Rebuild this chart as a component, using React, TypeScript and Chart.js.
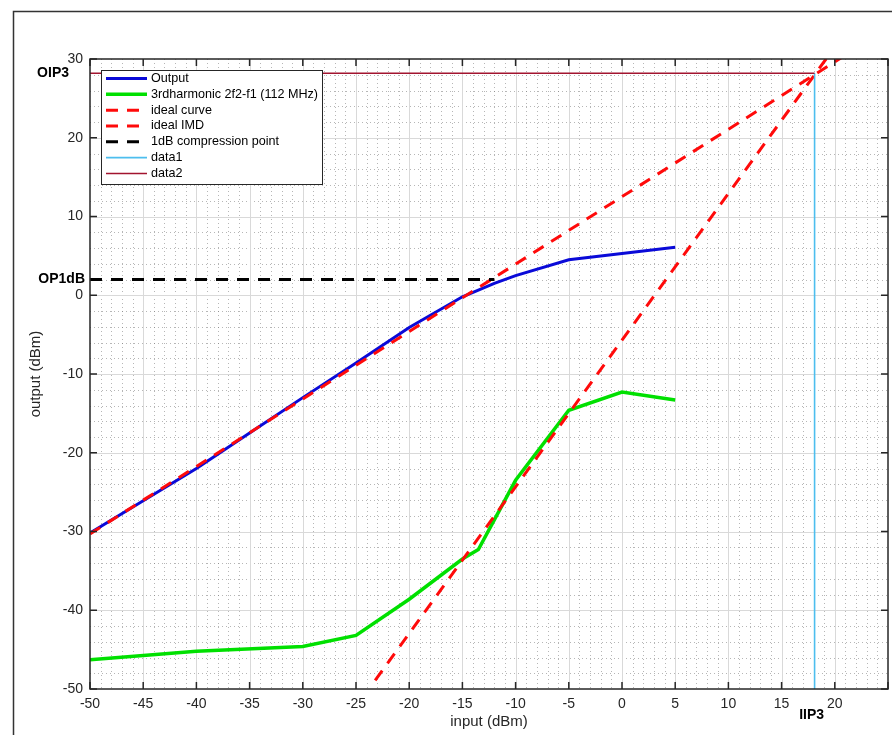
import React, { useEffect, useRef } from 'react';
import { Chart, registerables } from 'chart.js';

Chart.register(...registerables);

// ---- data ----
const outputX = [-50, -45, -40, -35, -30, -25, -20, -15, -12, -10, -5, 0, 5];
const outputY = [-30.2, -26.1, -22.0, -17.5, -13.0, -8.6, -4.1, -0.2, 1.5, 2.5, 4.5, 5.3, 6.1];

const harmX = [-50, -40, -30, -25, -20, -15, -13.5, -10, -5, 0, 5];
const harmY = [-46.3, -45.2, -44.6, -43.2, -38.6, -33.5, -32.3, -23.5, -14.6, -12.3, -13.3];

const idealX = [-50, 21];
const idealY = [-30.3, 30.5];

const imdX = [-23.2, 19.5];
const imdY = [-48.9, 30.6];

const p1dbX = [-50, -12];
const p1dbY = [2, 2];

const data1X = [18.1, 18.1];
const data1Y = [-50, 28.2];

const data2X = [-50, 18.1];
const data2Y = [28.2, 28.2];

const seriesNames = [
  'Output',
  '3rdharmonic 2f2-f1 (112 MHz)',
  'ideal curve',
  'ideal IMD',
  '1dB compression point',
  'data1',
  'data2',
];

const xTickValues = [-50, -45, -40, -35, -30, -25, -20, -15, -10, -5, 0, 5, 10, 15, 20];
const yTickValues = [-50, -40, -30, -20, -10, 0, 10, 20, 30];

const OIP3 = 28.2;
const OP1dB = 2;
const IIP3 = 18.1;

const xTitle = 'input (dBm)';
const yTitle = 'output (dBm)';

const FONT = '"Liberation Sans", Arial, Helvetica, sans-serif';
const TEXT = '#262626';

const pts = (xs: number[], ys: number[]) => xs.map((x, i) => ({ x, y: ys[i] }));

const styles = [
  { color: '#0a0ad8', width: 3, dash: [] as number[] },
  { color: '#00e000', width: 3.5, dash: [] as number[] },
  { color: '#ff0a0a', width: 3, dash: [12, 9] },
  { color: '#ff0a0a', width: 3, dash: [12, 9] },
  { color: '#000000', width: 3, dash: [12, 9] },
  { color: '#4dbeee', width: 1.6, dash: [] as number[] },
  { color: '#a2142f', width: 1.4, dash: [] as number[] },
];

const decorPlugin = {
  id: 'decor',
  beforeDatasetsDraw(chart: any) {
    const { ctx, chartArea: a, scales } = chart;
    const xs = scales.x;
    const ys = scales.y;
    ctx.save();
    ctx.fillStyle = '#ffffff';
    ctx.fillRect(a.left, a.top, a.right - a.left, a.bottom - a.top);
    // minor grid (dotted)
    ctx.strokeStyle = 'rgba(110,110,110,0.5)';
    ctx.lineWidth = 1;
    ctx.setLineDash([1, 3]);
    for (let v = -49; v < 25; v++) {
      if (v % 5 === 0) continue;
      const px = Math.round(xs.getPixelForValue(v)) + 0.5;
      ctx.beginPath();
      ctx.moveTo(px, a.top);
      ctx.lineTo(px, a.bottom);
      ctx.stroke();
    }
    for (let v = -48; v < 30; v += 2) {
      if (v % 10 === 0) continue;
      const py = Math.round(ys.getPixelForValue(v)) + 0.5;
      ctx.beginPath();
      ctx.moveTo(a.left, py);
      ctx.lineTo(a.right, py);
      ctx.stroke();
    }
    // major grid
    ctx.setLineDash([]);
    ctx.strokeStyle = '#d9d9d9';
    for (let v = -45; v < 25; v += 5) {
      const px = Math.round(xs.getPixelForValue(v)) + 0.5;
      ctx.beginPath();
      ctx.moveTo(px, a.top);
      ctx.lineTo(px, a.bottom);
      ctx.stroke();
    }
    for (let v = -40; v < 30; v += 10) {
      const py = Math.round(ys.getPixelForValue(v)) + 0.5;
      ctx.beginPath();
      ctx.moveTo(a.left, py);
      ctx.lineTo(a.right, py);
      ctx.stroke();
    }
    ctx.restore();
  },
  afterDraw(chart: any) {
    const { ctx, chartArea: a, scales } = chart;
    const xs = scales.x;
    const ys = scales.y;
    ctx.save();
    // axes box
    ctx.strokeStyle = TEXT;
    ctx.lineWidth = 1.5;
    ctx.setLineDash([]);
    ctx.strokeRect(a.left, a.top, a.right - a.left, a.bottom - a.top);
    // tick marks (inward)
    ctx.lineWidth = 1.5;
    for (let v = -50; v <= 25; v += 5) {
      const px = xs.getPixelForValue(v);
      ctx.beginPath();
      ctx.moveTo(px, a.bottom);
      ctx.lineTo(px, a.bottom - 7);
      ctx.moveTo(px, a.top);
      ctx.lineTo(px, a.top + 7);
      ctx.stroke();
    }
    for (let v = -50; v <= 30; v += 10) {
      const py = ys.getPixelForValue(v);
      ctx.beginPath();
      ctx.moveTo(a.left, py);
      ctx.lineTo(a.left + 7, py);
      ctx.moveTo(a.right, py);
      ctx.lineTo(a.right - 7, py);
      ctx.stroke();
    }
    // special labels
    ctx.fillStyle = '#000000';
    ctx.font = `bold 14px ${FONT}`;
    ctx.textAlign = 'right';
    ctx.textBaseline = 'middle';
    ctx.fillText('OIP3', a.left - 21, ys.getPixelForValue(OIP3));
    ctx.fillText('OP1dB', a.left - 5, ys.getPixelForValue(OP1dB));
    ctx.textAlign = 'center';
    ctx.fillText('IIP3', xs.getPixelForValue(IIP3) - 3, a.bottom + 26);
    // axis titles
    ctx.fillStyle = TEXT;
    ctx.font = `15px ${FONT}`;
    ctx.textAlign = 'center';
    ctx.textBaseline = 'middle';
    ctx.fillText(xTitle, (a.left + a.right) / 2, a.bottom + 33);
    ctx.save();
    ctx.translate(36, (a.top + a.bottom) / 2);
    ctx.rotate(-Math.PI / 2);
    ctx.fillText(yTitle, 0, 0);
    ctx.restore();
    // legend
    const lx = 101, ly = 70, lw = 221, lh = 114;
    ctx.fillStyle = '#ffffff';
    ctx.fillRect(lx, ly, lw, lh);
    ctx.strokeStyle = TEXT;
    ctx.lineWidth = 1;
    ctx.strokeRect(lx + 0.5, ly + 0.5, lw, lh);
    ctx.font = `12.6px ${FONT}`;
    ctx.textAlign = 'left';
    ctx.textBaseline = 'middle';
    seriesNames.forEach((name, i) => {
      const y = ly + 8.5 + i * 15.83;
      const st = styles[i];
      ctx.strokeStyle = st.color;
      ctx.lineWidth = st.width;
      ctx.setLineDash(st.dash);
      ctx.beginPath();
      ctx.moveTo(106, y);
      ctx.lineTo(147, y);
      ctx.stroke();
      ctx.setLineDash([]);
      ctx.fillStyle = '#000000';
      ctx.fillText(name, 151, y);
    });
    // figure frame
    ctx.strokeStyle = '#333333';
    ctx.lineWidth = 1.5;
    ctx.beginPath();
    ctx.moveTo(13.5, 740);
    ctx.lineTo(13.5, 11.5);
    ctx.lineTo(900, 11.5);
    ctx.stroke();
    ctx.restore();
  },
};

export default function App() {
  const ref = useRef<HTMLCanvasElement | null>(null);

  useEffect(() => {
    if (!ref.current) return;
    const seriesData = [
      pts(outputX, outputY),
      pts(harmX, harmY),
      pts(idealX, idealY),
      pts(imdX, imdY),
      pts(p1dbX, p1dbY),
      pts(data1X, data1Y),
      pts(data2X, data2Y),
    ];
    const chart = new Chart(ref.current, {
      type: 'line',
      data: {
        datasets: seriesData.map((d, i) => ({
          label: seriesNames[i],
          data: d,
          borderColor: styles[i].color,
          backgroundColor: styles[i].color,
          borderWidth: styles[i].width,
          borderDash: styles[i].dash,
          pointRadius: 0,
          tension: 0,
          fill: false,
          order: 10 - i,
        })),
      },
      options: {
        responsive: false,
        animation: false,
        events: [],
        layout: { padding: { top: 59, right: 4, left: 0, bottom: 0 } },
        plugins: {
          legend: { display: false },
          tooltip: { enabled: false },
          title: { display: false },
        },
        scales: {
          x: {
            type: 'linear',
            min: -50,
            max: 25,
            grid: { display: false, drawTicks: false },
            border: { display: false },
            afterBuildTicks: (s: any) => {
              s.ticks = xTickValues.map((v) => ({ value: v }));
            },
            afterFit: (s: any) => {
              s.height = 46;
            },
            ticks: {
              autoSkip: false,
              maxRotation: 0,
              padding: 7,
              color: TEXT,
              font: { size: 14, family: FONT },
              callback: (v: any) => String(v),
            },
          },
          y: {
            type: 'linear',
            min: -50,
            max: 30,
            grid: { display: false, drawTicks: false },
            border: { display: false },
            afterBuildTicks: (s: any) => {
              s.ticks = yTickValues.map((v) => ({ value: v }));
            },
            afterFit: (s: any) => {
              s.width = 90;
            },
            ticks: {
              autoSkip: false,
              padding: 7,
              color: TEXT,
              font: { size: 14, family: FONT },
              callback: (v: any) => String(v),
            },
          },
        },
      },
      plugins: [decorPlugin],
    } as any);
    return () => chart.destroy();
  }, []);

  return (
    <div style={{ position: 'absolute', left: 0, top: 0, width: 892, height: 735, background: '#ffffff' }}>
      <canvas ref={ref} width={892} height={735} style={{ display: 'block', width: 892, height: 735 }} />
    </div>
  );
}
